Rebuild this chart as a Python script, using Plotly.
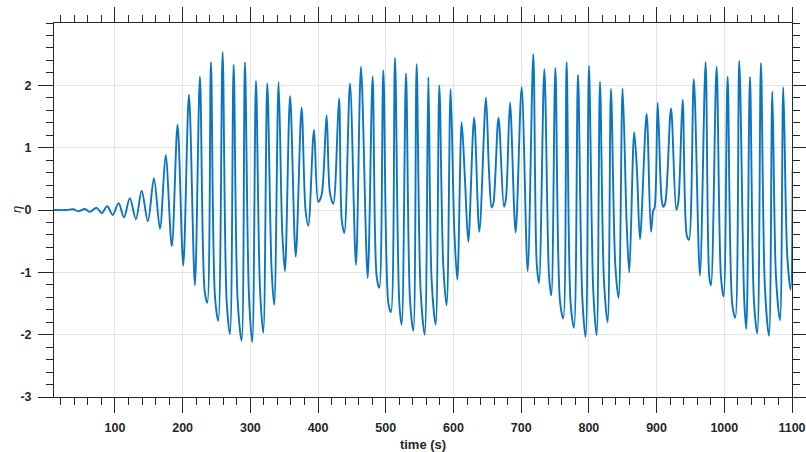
import plotly.graph_objects as go

# Extrema / turning points (time in s, surface elevation eta)
time_s = [
    10, 28, 38.4, 46, 55.7, 63, 73, 80.3, 88.6, 96.6, 105.4, 113.3, 122, 131, 139.4, 148.7,
    157.6, 166.5, 174.9, 184,
    192.5, 200.9, 209.3, 218.1,
    225.5, 232.5, 236.4, 241.8, 247.7, 252.6, 259.0, 265.0, 269.9, 275.3, 281.2, 287.1,
    292.0, 297.9, 302.8, 308.3, 314.2, 319.1, 325.0, 331.4, 335.3, 341.7, 347.1, 351.1,
    358.7, 367, 375.7, 381.5, 385.6, 394, 400.3, 405.2, 412.6, 417.6, 422.5,
    431, 435, 438.8, 447.2, 456.0, 463.4, 473.3,
    480.6, 486.5, 490.5, 496.4, 503.8, 507.7, 513.6, 520, 523.5, 529.9, 535.8, 540.7,
    545.6, 551.5, 557.5, 562.9, 567.7, 573.7, 579.1, 585.0, 589.9, 595.8, 601.2, 605.7,
    612.1, 617, 621.9, 630.5, 638.2, 648, 652.4, 656.4, 659, 666.5, 674.6, 677.5,
    683.5, 691.8, 700.7, 709.6,
    717.9, 722.9, 726.3, 734.2, 741.2, 744.5, 750.5, 757.3, 762.2, 767.1, 773.0, 778,
    783.9, 790.3, 795.2, 800.1, 806.5, 811.4, 816.4, 822.3, 827.7, 832.6, 839, 843.9,
    849.8, 855.8, 859.7, 866.9, 871, 875.5, 885.3, 891.7, 895.2, 897,
    901.6, 907.5, 910, 912.9, 921.3, 929.1, 932.1, 938.5, 944.5, 947.8, 955, 964.0,
    972.4, 977.8, 980.3, 988.6, 995, 999, 1004.9, 1011.8, 1016.2, 1022.1, 1029.5, 1032.5,
    1037.9, 1043.8, 1048.7, 1054.1, 1060.0, 1066, 1070.9, 1076.3, 1082.2, 1087.1, 1093.0, 1098,
    1101,
]
eta = [
    0, 0, 0.012, -0.02, 0.015, -0.03, 0.035, -0.05, 0.06, -0.08, 0.11, -0.12, 0.19, -0.15, 0.31, -0.18,
    0.51, -0.30, 0.88, -0.58,
    1.37, -0.89, 1.85, -1.21,
    2.14, -1.30, -1.49, 2.37, -1.38, -1.78, 2.53, -1.46, -1.99, 2.33, -1.44, -2.10,
    2.37, -1.36, -2.12, 2.07, -1.25, -1.97, 2.03, -0.96, -1.52, 2.05, -0.35, -0.98,
    1.83, -0.75, 1.64, 0.0, -0.25, 1.29, 0.13, 0.24, 1.52, 0.27, 0.10,
    1.79, -0.16, -0.37, 2.03, -0.88, 2.30, -1.09,
    2.14, -1.06, -1.25, 2.24, -1.49, -1.64, 2.44, -1.49, -1.84, 2.19, -1.44, -1.94,
    2.34, -1.30, -2.00, 2.13, -1.12, -1.84, 2.00, -0.90, -1.53, 1.94, -0.32, -1.12,
    1.41, 0.48, -0.51, 1.48, -0.35, 1.80, 0.64, 0.04, 0.11, 1.48, 0.05, 0.18,
    1.72, -0.36, 1.97, -0.98,
    2.50, -0.85, -1.17, 2.26, -1.06, -1.37, 2.28, -1.46, -1.74, 2.37, -1.49, -1.89,
    2.17, -1.41, -2.04, 2.31, -1.30, -2.01, 2.06, -1.14, -1.80, 1.94, -0.88, -1.41,
    1.95, -0.21, -1.00, 1.25, 0.64, -0.47, 1.54, -0.35, 0.0, 0.03,
    1.72, 0.16, 0.05, 0.12, 1.63, 0.0, 0.13, 1.77, -0.40, -0.48, 2.10, -1.05,
    2.37, -1.07, -1.21, 2.30, -1.06, -1.39, 2.14, -1.52, -1.73, 2.39, -1.46, -1.91,
    2.14, -1.46, -1.98, 2.36, -1.25, -2.02, 1.90, -1.06, -1.77, 1.97, -0.74, -1.28,
    0.65,
]

x_ticks = [100, 200, 300, 400, 500, 600, 700, 800, 900, 1000, 1100]
y_ticks = [-3, -2, -1, 0, 1, 2]

AX = "#262626"
FONT = "Liberation Sans, Arial, sans-serif"

fig = go.Figure()
fig.add_trace(go.Scatter(
    x=time_s, y=eta, mode="lines",
    line=dict(color="#0a76c2", width=1.9, shape="spline", smoothing=0.9),
    hoverinfo="skip", showlegend=False,
))

common = dict(
    showline=True, linecolor=AX, linewidth=1, mirror="allticks",
    ticks="outside", ticklen=15, tickwidth=1, tickcolor=AX,
    showgrid=True, gridcolor="#e3e3e3", gridwidth=1, zeroline=False,
    tickfont=dict(family=FONT, size=12.5, color=AX, weight="bold"),
    automargin=False,
)

fig.update_xaxes(
    range=[10, 1100], tickvals=x_ticks, ticktext=[str(v) for v in x_ticks],
    minor=dict(tickmode="linear", tick0=0, dtick=20, ticks="outside", ticklen=7,
               tickcolor=AX, tickwidth=1, showgrid=False),
    title=dict(text="time (s)", font=dict(family=FONT, size=13, color=AX, weight="bold"), standoff=6),
    ticklabelstandoff=4,
    **common,
)
fig.update_yaxes(
    range=[-3, 3], tickvals=y_ticks, ticktext=[str(v) for v in y_ticks],
    minor=dict(tickmode="linear", tick0=0, dtick=0.2, ticks="outside", ticklen=7,
               tickcolor=AX, tickwidth=1, showgrid=False),
    ticklabelstandoff=4,
    **common,
)

fig.add_annotation(
    text="η", xref="paper", yref="paper", x=0, y=0.5, xanchor="center", yanchor="middle",
    xshift=-38, textangle=-90, showarrow=False,
    font=dict(family=FONT, size=13, color=AX, style="italic"),
)

fig.update_layout(
    width=806, height=452,
    margin=dict(l=54, r=14, t=23, b=55),
    paper_bgcolor="white", plot_bgcolor="white",
)

fig.write_html("out.html")
